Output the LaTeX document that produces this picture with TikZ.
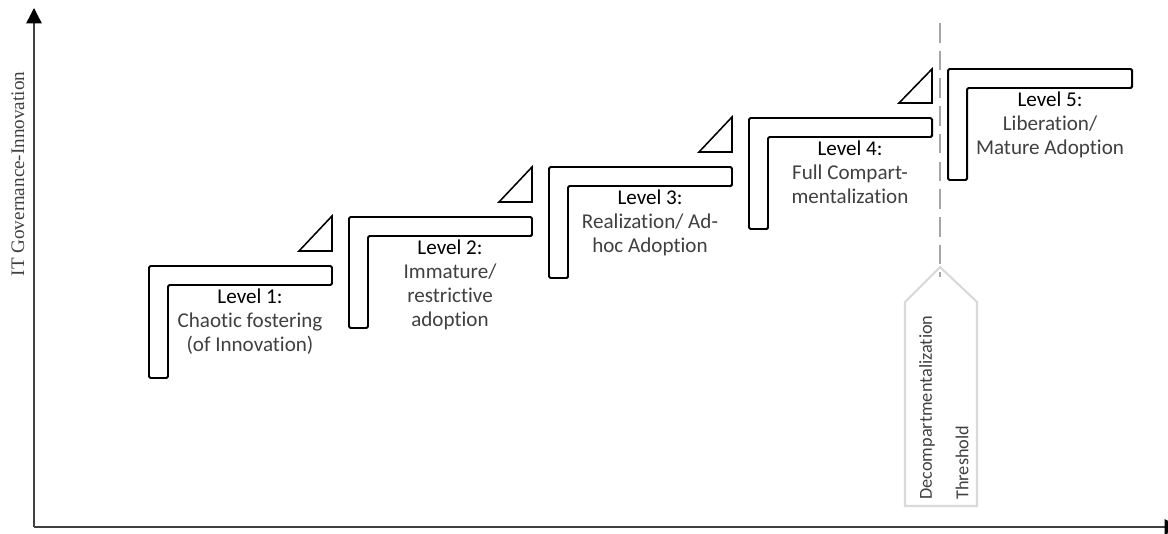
\documentclass[tikz,border=0pt]{standalone}
\usepackage{fontspec}
\setmainfont{Carlito}[Ligatures=NoCommon]
\newfontfamily\axisfont{Liberation Serif}
\usepackage{tikz}
\usetikzlibrary{arrows.meta}
\usepackage{xcolor}

\definecolor{axisgray}{HTML}{404040}
\definecolor{textgray}{HTML}{404040}
\definecolor{dashgray}{HTML}{A6A6A6}
\definecolor{tagline}{HTML}{D9D9D9}

\tikzset{
	stair/.style={draw=black,line width=1.4pt,fill=white,rounded corners=1pt},
	wedge/.style={draw=black,line width=1.1pt,fill=white},
	leveltext/.style={align=center,anchor=north,inner sep=0pt,text=textgray,
		font=\fontsize{15}{17}\selectfont},
	tagtext/.style={rotate=90,anchor=west,inner sep=0pt,text=textgray,
		font=\fontsize{13}{15}\selectfont}
}

\newcommand{\lvl}[1]{\textcolor{black}{Level #1:}}

\begin{document}
\begin{tikzpicture}[x=0.025cm,y=-0.025cm]
		
		\useasboundingbox (0,0) rectangle (1168,533);
		
		% Axes
		\coordinate (origin) at (34,527);
		\coordinate (ytop) at (34,8);
		\coordinate (xend) at (1180,527);
		\draw[axisgray,line width=1pt,-{Triangle[length=11pt,width=11pt,color=black]}] (origin) -- (ytop);
		\draw[axisgray,line width=1pt,-{Triangle[length=11pt,width=11pt,color=black]}] (origin) -- (xend);
		\node[rotate=90,text=textgray,font=\axisfont\fontsize{13.6}{15}\selectfont] (ylab) at (18,174) {IT Governance-Innovation};
		
		% Level 1
		\draw[stair] (149,266) -- (332,266) -- (332,285) -- (168,285) -- (168,378) -- (149,378) -- cycle;
		\draw[wedge] (299,251) -- (332,251) -- (332,216) -- cycle;
		\node[leveltext] (lvlone) at (250,289) {\lvl{1}\\Chaotic fostering\\(of Innovation)};
		
		% Level 2
		\draw[stair] (349,217) -- (532,217) -- (532,236) -- (368,236) -- (368,328) -- (349,328) -- cycle;
		\draw[wedge] (499,202) -- (532,202) -- (532,167) -- cycle;
		\node[leveltext] (lvltwo) at (450,240) {\lvl{2}\\Immature/\\restrictive\\adoption};
		
		% Level 3
		\draw[stair] (549,167) -- (732,167) -- (732,186) -- (568,186) -- (568,278) -- (549,278) -- cycle;
		\draw[wedge] (699,152) -- (732,152) -- (732,117) -- cycle;
		\node[leveltext] (lvlthree) at (650,190) {\lvl{3}\\Realization/ Ad-\\hoc Adoption};
		
		% Level 4
		\draw[stair] (749,118) -- (932,118) -- (932,137) -- (768,137) -- (768,229) -- (749,229) -- cycle;
		\draw[wedge] (899,103) -- (932,103) -- (932,69) -- cycle;
		\node[leveltext] (lvlfour) at (850,141) {\lvl{4}\\Full Compart-\\mentalization};
		
		% Level 5
		\draw[stair] (948,69) -- (1132,69) -- (1132,88) -- (967,88) -- (967,180) -- (948,180) -- cycle;
		\node[leveltext] (lvlfive) at (1050,92) {\lvl{5}\\Liberation/\\Mature Adoption};
		
		% Threshold tag
		\draw[tagline,line width=1.5pt] (940,267) -- (977,302) -- (977,506) -- (905,506) -- (905,302) -- cycle;
		\coordinate (thrtop) at (940,23);
		\coordinate (thrtip) at (940,277);
		\draw[dashgray,line width=2pt,dash pattern=on 14pt off 5.7pt] (thrtop) -- (thrtip);
		\node[tagtext] (throne) at (927,500) {Decompartmentalization};
		\node[tagtext] (thrtwo) at (962,500) {Threshold};
		
	\end{tikzpicture}
\end{document}
